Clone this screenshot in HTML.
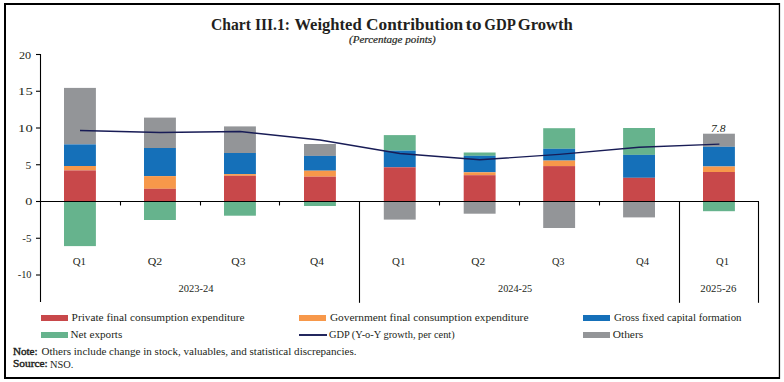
<!DOCTYPE html>
<html><head><meta charset="utf-8"><style>
html,body{margin:0;padding:0;background:#fff;}
body{width:784px;height:382px;overflow:hidden;}
svg{display:block;font-family:"Liberation Serif",serif;}
</style></head><body>
<svg width="784" height="382" viewBox="0 0 784 382">
<rect x="4" y="3" width="776" height="2" fill="#000"/>
<rect x="4" y="3" width="2" height="376" fill="#000"/>
<rect x="778.8" y="3" width="1.3" height="376" fill="#000"/>
<rect x="4" y="377" width="776" height="2" fill="#000"/>
<rect x="64.00" y="87.90" width="31.9" height="56.50" fill="#939598"/>
<rect x="64.00" y="144.40" width="31.9" height="21.60" fill="#1570B9"/>
<rect x="64.00" y="166.00" width="31.9" height="4.40" fill="#F7984A"/>
<rect x="64.00" y="170.40" width="31.9" height="31.10" fill="#C8484A"/>
<rect x="64.00" y="201.50" width="31.9" height="44.60" fill="#66B38D"/>
<rect x="144.00" y="117.60" width="31.9" height="30.40" fill="#939598"/>
<rect x="144.00" y="148.00" width="31.9" height="28.10" fill="#1570B9"/>
<rect x="144.00" y="176.10" width="31.9" height="12.70" fill="#F7984A"/>
<rect x="144.00" y="188.80" width="31.9" height="12.70" fill="#C8484A"/>
<rect x="144.00" y="201.50" width="31.9" height="18.50" fill="#66B38D"/>
<rect x="224.00" y="126.40" width="31.9" height="26.60" fill="#939598"/>
<rect x="224.00" y="153.00" width="31.9" height="21.10" fill="#1570B9"/>
<rect x="224.00" y="174.10" width="31.9" height="1.70" fill="#F7984A"/>
<rect x="224.00" y="175.80" width="31.9" height="25.70" fill="#C8484A"/>
<rect x="224.00" y="201.50" width="31.9" height="14.20" fill="#66B38D"/>
<rect x="304.00" y="144.00" width="31.9" height="11.90" fill="#939598"/>
<rect x="304.00" y="155.90" width="31.9" height="14.80" fill="#1570B9"/>
<rect x="304.00" y="170.70" width="31.9" height="6.00" fill="#F7984A"/>
<rect x="304.00" y="176.70" width="31.9" height="24.80" fill="#C8484A"/>
<rect x="304.00" y="201.50" width="31.9" height="4.50" fill="#66B38D"/>
<rect x="383.80" y="135.10" width="31.9" height="15.50" fill="#66B38D"/>
<rect x="383.80" y="150.60" width="31.9" height="16.70" fill="#1570B9"/>
<rect x="383.80" y="167.30" width="31.9" height="34.20" fill="#C8484A"/>
<rect x="383.80" y="201.50" width="31.9" height="18.10" fill="#939598"/>
<rect x="463.70" y="152.50" width="31.9" height="3.30" fill="#66B38D"/>
<rect x="463.70" y="155.80" width="31.9" height="16.50" fill="#1570B9"/>
<rect x="463.70" y="172.30" width="31.9" height="2.90" fill="#F7984A"/>
<rect x="463.70" y="175.20" width="31.9" height="26.30" fill="#C8484A"/>
<rect x="463.70" y="201.50" width="31.9" height="12.20" fill="#939598"/>
<rect x="543.20" y="128.20" width="31.9" height="20.60" fill="#66B38D"/>
<rect x="543.20" y="148.80" width="31.9" height="11.80" fill="#1570B9"/>
<rect x="543.20" y="160.60" width="31.9" height="5.50" fill="#F7984A"/>
<rect x="543.20" y="166.10" width="31.9" height="35.40" fill="#C8484A"/>
<rect x="543.20" y="201.50" width="31.9" height="26.50" fill="#939598"/>
<rect x="623.10" y="128.00" width="31.9" height="26.90" fill="#66B38D"/>
<rect x="623.10" y="154.90" width="31.9" height="22.90" fill="#1570B9"/>
<rect x="623.10" y="177.80" width="31.9" height="23.70" fill="#C8484A"/>
<rect x="623.10" y="201.50" width="31.9" height="15.90" fill="#939598"/>
<rect x="703.00" y="133.70" width="31.9" height="13.10" fill="#939598"/>
<rect x="703.00" y="146.80" width="31.9" height="19.70" fill="#1570B9"/>
<rect x="703.00" y="166.50" width="31.9" height="5.50" fill="#F7984A"/>
<rect x="703.00" y="172.00" width="31.9" height="29.50" fill="#C8484A"/>
<rect x="703.00" y="201.50" width="31.9" height="9.70" fill="#66B38D"/>
<path d="M40.5 54 V302" stroke="#000" stroke-width="1.1" fill="none"/>
<path d="M36 54.50 H40.5" stroke="#000" stroke-width="1.1"/>
<path d="M36 91.25 H40.5" stroke="#000" stroke-width="1.1"/>
<path d="M36 128.00 H40.5" stroke="#000" stroke-width="1.1"/>
<path d="M36 164.75 H40.5" stroke="#000" stroke-width="1.1"/>
<path d="M36 201.50 H40.5" stroke="#000" stroke-width="1.1"/>
<path d="M36 238.25 H40.5" stroke="#000" stroke-width="1.1"/>
<path d="M36 275.00 H40.5" stroke="#000" stroke-width="1.1"/>
<path d="M40 201.5 H759" stroke="#000" stroke-width="1.1"/>
<path d="M120.5 201.5 V205.5" stroke="#000" stroke-width="1.1"/>
<path d="M200.5 201.5 V205.5" stroke="#000" stroke-width="1.1"/>
<path d="M279.5 201.5 V205.5" stroke="#000" stroke-width="1.1"/>
<path d="M439.5 201.5 V205.5" stroke="#000" stroke-width="1.1"/>
<path d="M519.5 201.5 V205.5" stroke="#000" stroke-width="1.1"/>
<path d="M599.5 201.5 V205.5" stroke="#000" stroke-width="1.1"/>
<path d="M359.5 201.5 V302.8" stroke="#000" stroke-width="1.1"/>
<path d="M679.5 201.5 V302.8" stroke="#000" stroke-width="1.1"/>
<path d="M758.5 201.5 V302.8" stroke="#000" stroke-width="1.1"/>
<path d="M80.00 130.50 L160.00 132.50 L240.00 131.50 L320.00 140.00 L399.80 153.50 L479.70 159.80 L559.20 154.40 L639.10 147.20 L719.40 144.10" stroke="#181C56" stroke-width="1.4" fill="none" stroke-linejoin="round"/>
<rect x="41" y="315" width="27" height="6" fill="#C8484A"/>
<rect x="41" y="332" width="27" height="6" fill="#66B38D"/>
<rect x="299" y="315" width="27" height="6" fill="#F7984A"/>
<path d="M299 335 H327" stroke="#181C56" stroke-width="1.9"/>
<rect x="583" y="315" width="27" height="6" fill="#1570B9"/>
<rect x="583" y="332" width="27" height="6" fill="#939598"/>
<text x="211.10" y="29.70" font-size="16.90" font-weight="bold" font-style="normal" fill="#231F20" textLength="39.88" lengthAdjust="spacingAndGlyphs">Chart</text>
<text x="254.90" y="29.70" font-size="16.90" font-weight="bold" font-style="normal" fill="#231F20" textLength="35.06" lengthAdjust="spacingAndGlyphs">III.1:</text>
<text x="294.40" y="29.70" font-size="16.90" font-weight="bold" font-style="normal" fill="#231F20" textLength="67.31" lengthAdjust="spacingAndGlyphs">Weighted</text>
<text x="366.10" y="29.70" font-size="16.90" font-weight="bold" font-style="normal" fill="#231F20" textLength="97.05" lengthAdjust="spacingAndGlyphs">Contribution</text>
<text x="465.60" y="29.70" font-size="16.90" font-weight="bold" font-style="normal" fill="#231F20" textLength="16.03" lengthAdjust="spacingAndGlyphs">to</text>
<text x="484.30" y="29.70" font-size="16.90" font-weight="bold" font-style="normal" fill="#231F20" textLength="31.46" lengthAdjust="spacingAndGlyphs">GDP</text>
<text x="517.70" y="29.70" font-size="16.90" font-weight="bold" font-style="normal" fill="#231F20" textLength="55.19" lengthAdjust="spacingAndGlyphs">Growth</text>
<text x="349.00" y="42.90" font-size="10.00" font-weight="normal" font-style="italic" fill="#231F20" textLength="86.76" lengthAdjust="spacingAndGlyphs" stroke="#231F20" stroke-width="0.20">(Percentage points)</text>
<text x="19.00" y="58.90" font-size="10.50" font-weight="normal" font-style="normal" fill="#231F20" textLength="12.19" lengthAdjust="spacingAndGlyphs">20</text>
<text x="18.10" y="94.90" font-size="10.50" font-weight="normal" font-style="normal" fill="#231F20" textLength="14.57" lengthAdjust="spacingAndGlyphs">15</text>
<text x="18.10" y="131.90" font-size="10.50" font-weight="normal" font-style="normal" fill="#231F20" textLength="14.57" lengthAdjust="spacingAndGlyphs">10</text>
<text x="25.60" y="168.80" font-size="10.50" font-weight="normal" font-style="normal" fill="#231F20" textLength="5.69" lengthAdjust="spacingAndGlyphs">5</text>
<text x="25.30" y="205.20" font-size="10.50" font-weight="normal" font-style="normal" fill="#231F20" textLength="7.10" lengthAdjust="spacingAndGlyphs">0</text>
<text x="22.30" y="242.00" font-size="10.50" font-weight="normal" font-style="normal" fill="#231F20" textLength="9.19" lengthAdjust="spacingAndGlyphs">-5</text>
<text x="17.70" y="277.90" font-size="10.50" font-weight="normal" font-style="normal" fill="#231F20" textLength="13.81" lengthAdjust="spacingAndGlyphs">-10</text>
<text x="72.70" y="265.00" font-size="10.50" font-weight="normal" font-style="normal" fill="#231F20" textLength="13.32" lengthAdjust="spacingAndGlyphs">Q1</text>
<text x="147.70" y="265.00" font-size="10.50" font-weight="normal" font-style="normal" fill="#231F20" textLength="14.56" lengthAdjust="spacingAndGlyphs">Q2</text>
<text x="231.30" y="265.00" font-size="10.50" font-weight="normal" font-style="normal" fill="#231F20" textLength="14.13" lengthAdjust="spacingAndGlyphs">Q3</text>
<text x="310.00" y="265.00" font-size="10.50" font-weight="normal" font-style="normal" fill="#231F20" textLength="13.91" lengthAdjust="spacingAndGlyphs">Q4</text>
<text x="392.00" y="265.00" font-size="10.50" font-weight="normal" font-style="normal" fill="#231F20" textLength="13.37" lengthAdjust="spacingAndGlyphs">Q1</text>
<text x="471.30" y="265.00" font-size="10.50" font-weight="normal" font-style="normal" fill="#231F20" textLength="13.91" lengthAdjust="spacingAndGlyphs">Q2</text>
<text x="551.90" y="265.00" font-size="10.50" font-weight="normal" font-style="normal" fill="#231F20" textLength="12.63" lengthAdjust="spacingAndGlyphs">Q3</text>
<text x="636.00" y="265.00" font-size="10.50" font-weight="normal" font-style="normal" fill="#231F20" textLength="13.12" lengthAdjust="spacingAndGlyphs">Q4</text>
<text x="716.00" y="265.00" font-size="10.50" font-weight="normal" font-style="normal" fill="#231F20" textLength="12.93" lengthAdjust="spacingAndGlyphs">Q1</text>
<text x="178.40" y="292.20" font-size="10.50" font-weight="normal" font-style="normal" fill="#231F20" textLength="35.00" lengthAdjust="spacingAndGlyphs">2023-24</text>
<text x="498.00" y="292.20" font-size="10.50" font-weight="normal" font-style="normal" fill="#231F20" textLength="34.20" lengthAdjust="spacingAndGlyphs">2024-25</text>
<text x="700.30" y="292.20" font-size="10.50" font-weight="normal" font-style="normal" fill="#231F20" textLength="36.03" lengthAdjust="spacingAndGlyphs">2025-26</text>
<text x="711.00" y="132.00" font-size="10.50" font-weight="normal" font-style="italic" fill="#231F20" textLength="14.45" lengthAdjust="spacingAndGlyphs">7.8</text>
<text x="71.60" y="321.00" font-size="10.30" font-weight="normal" font-style="normal" fill="#231F20" textLength="173.02" lengthAdjust="spacingAndGlyphs">Private final consumption expenditure</text>
<text x="70.50" y="337.80" font-size="10.30" font-weight="normal" font-style="normal" fill="#231F20" textLength="51.84" lengthAdjust="spacingAndGlyphs">Net exports</text>
<text x="329.90" y="321.00" font-size="10.30" font-weight="normal" font-style="normal" fill="#231F20" textLength="198.57" lengthAdjust="spacingAndGlyphs">Government final consumption expenditure</text>
<text x="328.90" y="337.80" font-size="10.30" font-weight="normal" font-style="normal" fill="#231F20" textLength="125.79" lengthAdjust="spacingAndGlyphs">GDP (Y-o-Y growth, per cent)</text>
<text x="613.90" y="321.00" font-size="10.30" font-weight="normal" font-style="normal" fill="#231F20" textLength="127.63" lengthAdjust="spacingAndGlyphs">Gross fixed capital formation</text>
<text x="612.80" y="337.80" font-size="10.30" font-weight="normal" font-style="normal" fill="#231F20" textLength="30.31" lengthAdjust="spacingAndGlyphs">Others</text>
<text x="12.90" y="355.00" font-size="10.40" font-weight="normal" font-style="normal" fill="#231F20" textLength="24.79" lengthAdjust="spacingAndGlyphs" stroke="#231F20" stroke-width="0.40">Note:</text>
<text x="41.50" y="355.00" font-size="10.40" font-weight="normal" font-style="normal" fill="#231F20" textLength="315.00" lengthAdjust="spacingAndGlyphs">Others include change in stock, valuables, and statistical discrepancies.</text>
<text x="12.90" y="367.30" font-size="10.40" font-weight="normal" font-style="normal" fill="#231F20" textLength="34.83" lengthAdjust="spacingAndGlyphs" stroke="#231F20" stroke-width="0.40">Source:</text>
<text x="49.90" y="367.50" font-size="10.40" font-weight="normal" font-style="normal" fill="#231F20" textLength="23.39" lengthAdjust="spacingAndGlyphs">NSO.</text>
</svg>
</body></html>
